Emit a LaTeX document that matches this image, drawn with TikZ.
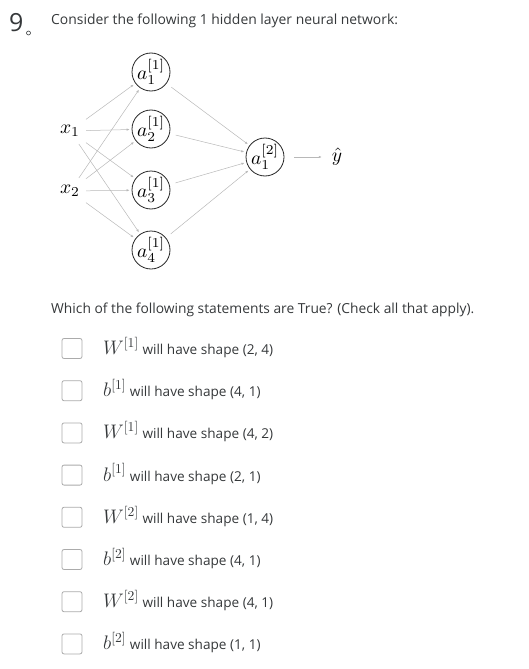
\documentclass[tikz,border=0pt]{standalone}
\usepackage{amsmath}
\usepackage{graphicx}
\usepackage{fontspec}
\setmainfont{Open Sans}
\usepackage{xcolor}
\usepackage{tikz}
\usetikzlibrary{positioning,arrows.meta}
\definecolor{QuizText}{HTML}{35383A}
\definecolor{EdgeGray}{HTML}{B8B8B8}
\definecolor{BoxGray}{HTML}{ABABAB}
\newcommand{\nnsym}[1]{\scalebox{1.95}{$#1$}}
\newcommand{\ansym}[1]{\scalebox{1.36}{$#1$}}
\tikzset{
    neuron/.style={circle, draw=black!85, line width=0.8pt, fill=white, minimum size=38pt, inner sep=0pt},
    inputlbl/.style={minimum width=30pt, minimum height=24pt, inner sep=0pt},
    checkbox/.style={draw=BoxGray, line width=0.8pt, rounded corners=2pt, minimum size=20pt, inner sep=0pt},
    answer/.style={anchor=base west, text=QuizText, font=\fontsize{13.6}{15}\selectfont}
}

\begin{document}
\begin{tikzpicture}[
                x=1pt, y=-1pt,
                edge/.style={draw=EdgeGray, line width=0.5pt, -{Latex[length=3pt,width=2.4pt]}, shorten <=1pt, shorten >=2pt},
                outedge/.style={edge, shorten <=6pt}
            ]
                \useasboundingbox (0,0) rectangle (529,669);

                % question header
                \node[anchor=base west, inner sep=0pt, text=QuizText, font=\fontsize{25}{25}\selectfont] (num) at (9,32) {9};
                \node[circle, draw=QuizText, line width=0.6pt, minimum size=4pt, inner sep=0pt] (dot) at (28.5,33) {};
                \node[anchor=base west, inner sep=0pt, text=QuizText, font=\fontsize{13.9}{15}\selectfont] (title) at (51,25) {Consider the following 1 hidden layer neural network:};

                % network
                \node[inputlbl] (x1) at (70,131) {\nnsym{x_1}};
                \node[inputlbl] (x2) at (70,191) {\nnsym{x_2}};
                \node[neuron] (a1) at (151,72) {\nnsym{a^{[1]}_1}};
                \node[neuron] (a2) at (151,129) {\nnsym{a^{[1]}_2}};
                \node[neuron] (a3) at (151,190) {\nnsym{a^{[1]}_3}};
                \node[neuron] (a4) at (151,250) {\nnsym{a^{[1]}_4}};
                \node[neuron] (out) at (265,157) {\nnsym{a^{[2]}_1}};
                \node[inputlbl] (yhat) at (337,157) {\nnsym{\hat{y}}};

                \draw[edge] (x1) -- (a1);
                \draw[edge] (x1) -- (a2);
                \draw[edge] (x1) -- (a3);
                \draw[edge] (x1) -- (a4);
                \draw[edge] (x2) -- (a1);
                \draw[edge] (x2) -- (a2);
                \draw[edge] (x2) -- (a3);
                \draw[edge] (x2) -- (a4);
                \draw[outedge] (a1) -- (out);
                \draw[outedge] (a2) -- (out);
                \draw[outedge] (a3) -- (out);
                \draw[outedge] (a4) -- (out);
                \draw[outedge, shorten <=10pt, shorten >=0pt] (out) -- (yhat);

                % statements
                \node[anchor=base west, inner sep=0pt, text=QuizText, font=\fontsize{13.8}{15}\selectfont] (ask) at (51,313) {Which of the following statements are True? (Check all that apply).};

                \node[checkbox] (c1) at (72,348.5) {};
                \node[checkbox] (c2) at (72,390.7) {};
                \node[checkbox] (c3) at (72,432.9) {};
                \node[checkbox] (c4) at (72,475.1) {};
                \node[checkbox] (c5) at (72,517.3) {};
                \node[checkbox] (c6) at (72,559.5) {};
                \node[checkbox] (c7) at (72,601.7) {};
                \node[checkbox] (c8) at (72,643.9) {};

                \node[answer, inner sep=0pt] (s1) at (103,354.5) {\ansym{W^{[1]}} will have shape (2, 4)};
                \node[answer, inner sep=0pt] (s2) at (103,396.7) {\ansym{b^{[1]}} will have shape (4, 1)};
                \node[answer, inner sep=0pt] (s3) at (103,438.9) {\ansym{W^{[1]}} will have shape (4, 2)};
                \node[answer, inner sep=0pt] (s4) at (103,481.1) {\ansym{b^{[1]}} will have shape (2, 1)};
                \node[answer, inner sep=0pt] (s5) at (103,523.3) {\ansym{W^{[2]}} will have shape (1, 4)};
                \node[answer, inner sep=0pt] (s6) at (103,565.5) {\ansym{b^{[2]}} will have shape (4, 1)};
                \node[answer, inner sep=0pt] (s7) at (103,607.7) {\ansym{W^{[2]}} will have shape (4, 1)};
                \node[answer, inner sep=0pt] (s8) at (103,649.9) {\ansym{b^{[2]}} will have shape (1, 1)};
            \end{tikzpicture}
\end{document}
